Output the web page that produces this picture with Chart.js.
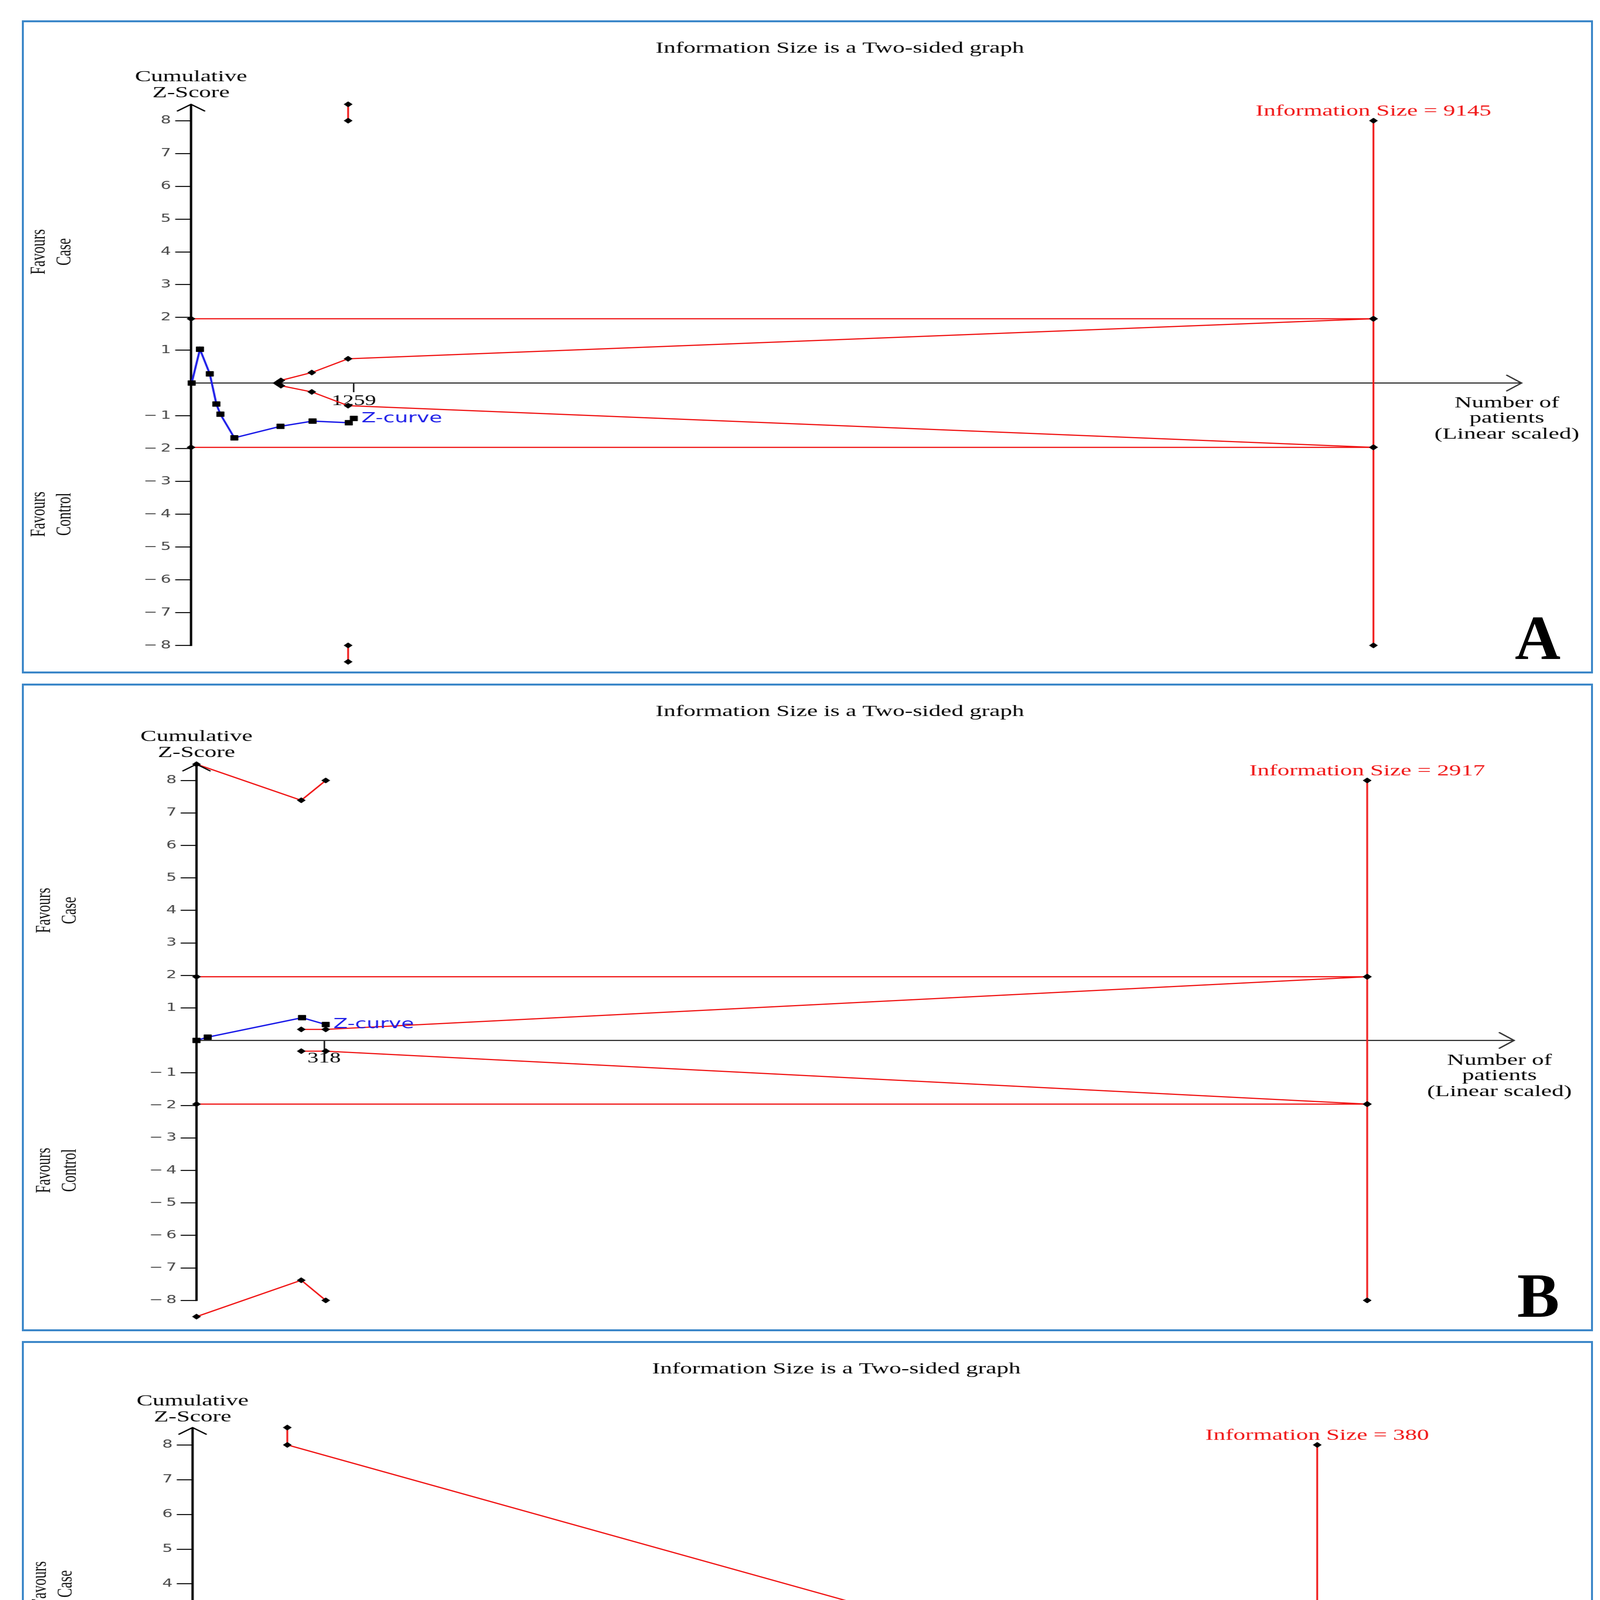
<!DOCTYPE html>
<html>
<head>
<meta charset="utf-8">
<script src="https://cdn.jsdelivr.net/npm/chart.js@4.4.1/dist/chart.umd.min.js"></script>
<style>
html,body{margin:0;padding:0;background:#fff;}
body{width:4124px;height:5275px;position:relative;overflow:hidden;}
.panel{position:absolute;box-sizing:border-box;border:5px solid #3a86c8;}
canvas{position:absolute;left:62px;transform-origin:0 0;transform:scaleX(1.5);}
.letter{position:absolute;font-family:"Liberation Serif","Times New Roman",serif;font-weight:bold;font-size:162px;line-height:162px;color:#000;}
</style>
</head>
<body>
<div class="panel" style="left:56px;top:52px;width:4022px;height:1672px;"></div>
<div class="panel" style="left:56px;top:1750px;width:4022px;height:1658px;"></div>
<div class="panel" style="left:56px;top:3433px;width:4022px;height:1779px;"></div>
<canvas id="cA" width="2673" height="1660" style="top:58px;"></canvas>
<canvas id="cB" width="2673" height="1646" style="top:1756px;"></canvas>
<canvas id="cC" width="2673" height="1767" style="top:3439px;"></canvas>
<div class="letter" style="left:3878px;top:1552px;">A</div>
<div class="letter" style="left:3884px;top:3236px;">B</div>
<div class="letter" style="left:3878px;top:5039px;">C</div>
<script>
// ---------- shared text ----------
const titleText = 'Information Size is a Two-sided graph';
const yTickValues = [8, 7, 6, 5, 4, 3, 2, 1, -1, -2, -3, -4, -5, -6, -7, -8];
const convZ = 1.96;
const isLineZ = [8, 1.96, -1.96, -8];

// ---------- Panel A ----------
const A_infoSize = 9145;
const A_xTick = 1259;
const A_zN = [5, 69, 145, 196, 227, 335, 692, 940, 1220, 1259];
const A_zZ = [0, 1.03, 0.28, -0.64, -0.95, -1.67, -1.32, -1.16, -1.21, -1.08];
const A_upMonN = [1215, 1215];
const A_upMonZ = [8.5, 8.0];
const A_loMonN = [1215, 1215];
const A_loMonZ = [-8.0, -8.5];
const A_upFutN = [665, 695, 934, 1215, 9145];
const A_upFutZ = [0, 0.08, 0.32, 0.74, 1.96];
const A_loFutN = [665, 695, 934, 1215, 9145];
const A_loFutZ = [0, -0.08, -0.27, -0.69, -1.96];
const A_convN = [0, 9145];

// ---------- Panel B ----------
const B_infoSize = 2917;
const B_xTick = 318;
const B_zN = [0, 28, 263, 322];
const B_zZ = [0, 0.10, 0.70, 0.49];
const B_upMonN = [0, 261, 322];
const B_upMonZ = [8.5, 7.39, 8.0];
const B_loMonN = [0, 261, 322];
const B_loMonZ = [-8.5, -7.38, -8.0];
const B_upFutN = [261, 322, 2917];
const B_upFutZ = [0.34, 0.34, 1.96];
const B_loFutN = [261, 322, 2917];
const B_loFutZ = [-0.33, -0.33, -1.96];
const B_convN = [0, 2917];

// ---------- Panel C ----------
const C_infoSize = 380;
const C_xTick = 265;
const C_zN = [0, 32, 265, 396];
const C_zZ = [0, -0.35, -0.43, -0.92];
const C_upMonN = [32, 32, 265];
const C_upMonZ = [8.5, 8.0, 2.47];
const C_loMonN = [32, 32, 265];
const C_loMonZ = [-8.5, -8.0, -2.43];
const C_upFutN = [32, 265, 380];
const C_upFutZ = [0.31, 1.67, 1.96];
const C_loFutN = [32, 265, 380];
const C_loFutZ = [-0.25, -1.64, -1.96];
const C_convN = [0, 380, 396];

const RED = '#f01414';
const BLUE = '#1c1ce8';

function pts(ns, zs) { return ns.map((n, i) => ({x: n, y: zs[i]})); }
function redSet(data) {
  return {data, showLine: true, borderColor: RED, borderWidth: 3, tension: 0,
    pointStyle: 'rectRot', pointRadius: 7, pointHoverRadius: 7,
    pointBackgroundColor: '#000', pointBorderColor: '#000', pointBorderWidth: 1, clip: false};
}

const panels = [
  {canvas: 'cA', is: A_infoSize, tick: A_xTick, zN: A_zN, zZ: A_zZ,
   upMon: pts(A_upMonN, A_upMonZ), loMon: pts(A_loMonN, A_loMonZ),
   upFut: pts(A_upFutN, A_upFutZ), loFut: pts(A_loFutN, A_loFutZ), convN: A_convN,
   axisW: 284.67, padTop: 209, padRight: 117.67, padBottom: 21, xMax: 10290, titleX: 1392},
  {canvas: 'cB', is: B_infoSize, tick: B_xTick, zN: B_zN, zZ: B_zZ,
   upMon: pts(B_upMonN, B_upMonZ), loMon: pts(B_loMonN, B_loMonZ),
   upFut: pts(B_upFutN, B_upFutZ), loFut: pts(B_loFutN, B_loFutZ), convN: B_convN,
   axisW: 294, padTop: 200.4, padRight: 130.33, padBottom: 31.4, xMax: 3283, titleX: 1392},
  {canvas: 'cC', is: C_infoSize, tick: C_xTick, zN: C_zN, zZ: C_zZ,
   upMon: pts(C_upMonN, C_upMonZ), loMon: pts(C_loMonN, C_loMonZ),
   upFut: pts(C_upFutN, C_upFutZ), loFut: pts(C_loFutN, C_loFutZ), convN: C_convN,
   axisW: 287.33, padTop: 215.5, padRight: 139, padBottom: 39.5, xMax: 444.8, titleX: 1386}
];

function makeTextPlugin(p) {
  return {
    id: 'tsaText_' + p.canvas,
    beforeDatasetsDraw(chart) {
      const ctx = chart.ctx, ys = chart.scales.y, ca = chart.chartArea;
      // y axis line from -8 up to the arrow tip
      ctx.save();
      ctx.strokeStyle = '#000'; ctx.lineWidth = 4;
      ctx.beginPath(); ctx.moveTo(ca.left, ys.getPixelForValue(-8) + 1.5); ctx.lineTo(ca.left, ca.top); ctx.stroke();
      ctx.restore();
    },
    afterDraw(chart) {
      const ctx = chart.ctx, xs = chart.scales.x, ys = chart.scales.y, ca = chart.chartArea;
      const y0 = ys.getPixelForValue(0), y8 = ys.getPixelForValue(8);
      ctx.save();
      // axis arrows
      ctx.lineCap = 'round';
      ctx.strokeStyle = '#000'; ctx.lineWidth = 3;
      ctx.beginPath(); ctx.moveTo(ca.left - 23, ca.top + 17); ctx.lineTo(ca.left, ca.top); ctx.lineTo(ca.left + 23, ca.top + 17); ctx.stroke();
      ctx.strokeStyle = '#333';
      ctx.beginPath(); ctx.moveTo(ca.right - 25, y0 - 20); ctx.lineTo(ca.right, y0); ctx.lineTo(ca.right - 25, y0 + 20); ctx.stroke();
      // title
      ctx.fillStyle = '#000'; ctx.font = '41px "Liberation Serif"'; ctx.textAlign = 'center'; ctx.textBaseline = 'alphabetic';
      ctx.fillText(titleText, p.titleX, 77);
      // y axis title
      ctx.fillText('Cumulative', ca.left, y8 - 101);
      ctx.fillText('Z-Score', ca.left, y8 - 60);
      // information size label
      ctx.fillStyle = RED;
      ctx.fillText('Information Size = ' + p.is, xs.getPixelForValue(p.is), y8 - 13);
      // x axis title
      ctx.fillStyle = '#000';
      const nx = ca.right - 25;
      ctx.fillText('Number of', nx, y0 + 62);
      ctx.fillText('patients', nx, y0 + 101);
      ctx.fillText('(Linear scaled)', nx, y0 + 142);
      // Z-curve label
      const ln = p.zN[p.zN.length - 1], lz = p.zZ[p.zZ.length - 1];
      ctx.fillStyle = BLUE; ctx.font = '36px "DejaVu Sans"'; ctx.textAlign = 'left'; ctx.textBaseline = 'middle';
      ctx.fillText('Z-curve', xs.getPixelForValue(ln) + 13, ys.getPixelForValue(lz));
      // Favours labels (rotated)
      ctx.fillStyle = '#111'; ctx.font = '36px "Liberation Serif"'; ctx.textAlign = 'center'; ctx.textBaseline = 'middle';
      const rot = (t, x, y) => { ctx.save(); ctx.translate(x, y); ctx.rotate(-Math.PI / 2); ctx.fillText(t, 0, 0); ctx.restore(); };
      const yUp = ys.getPixelForValue(4), yDn = ys.getPixelForValue(-4);
      rot('Favours', ca.left - 259.3, yUp); rot('Case', ca.left - 215.3, yUp);
      rot('Favours', ca.left - 259.3, yDn); rot('Control', ca.left - 215.3, yDn);
      ctx.restore();
    }
  };
}

panels.forEach(p => {
  const zcurve = {data: pts(p.zN, p.zZ), showLine: true, borderColor: BLUE, borderWidth: 3.5, tension: 0,
    pointStyle: 'rect', pointRadius: 9, pointHoverRadius: 9,
    pointBackgroundColor: '#000', pointBorderColor: '#000', pointBorderWidth: 1, clip: false};
  const datasets = [
    zcurve,
    redSet(p.upFut), redSet(p.loFut),
    redSet(p.upMon), redSet(p.loMon),
    redSet(p.convN.map(n => ({x: n, y: convZ}))),
    redSet(p.convN.map(n => ({x: n, y: -convZ}))),
    redSet(isLineZ.map(z => ({x: p.is, y: z})))
  ];
  new Chart(document.getElementById(p.canvas), {
    type: 'scatter',
    data: {datasets},
    options: {
      responsive: false, animation: false, devicePixelRatio: 1, events: [],
      layout: {padding: {left: 0, top: p.padTop, right: p.padRight, bottom: p.padBottom}},
      plugins: {legend: {display: false}, tooltip: {enabled: false}, title: {display: false}},
      scales: {
        x: {
          type: 'linear', position: {y: 0}, min: 0, max: p.xMax,
          border: {display: true, color: '#333', width: 3},
          grid: {display: true, drawOnChartArea: false, drawTicks: true, tickLength: 22, color: '#111', lineWidth: 2.5},
          afterBuildTicks: s => { s.ticks = [{value: p.tick}]; },
          ticks: {autoSkip: false, maxRotation: 0, padding: 2, color: '#000',
                  font: {family: 'Liberation Serif', size: 38}, callback: v => String(v)}
        },
        y: {
          type: 'linear', position: 'left', min: -8.5, max: 8.5,
          afterFit: s => { s.width = p.axisW; },
          border: {display: false},
          grid: {display: true, drawOnChartArea: false, drawTicks: true, tickLength: 27, color: '#000', lineWidth: 2.5},
          afterBuildTicks: s => { s.ticks = yTickValues.map(v => ({value: v})); },
          ticks: {autoSkip: false, padding: 7, color: '#444',
                  font: {family: 'DejaVu Sans', size: 28},
                  callback: v => v < 0 ? '\u2212\u2009' + Math.abs(v) : String(v)}
        }
      }
    },
    plugins: [makeTextPlugin(p)]
  });
});
</script>
</body>
</html>
